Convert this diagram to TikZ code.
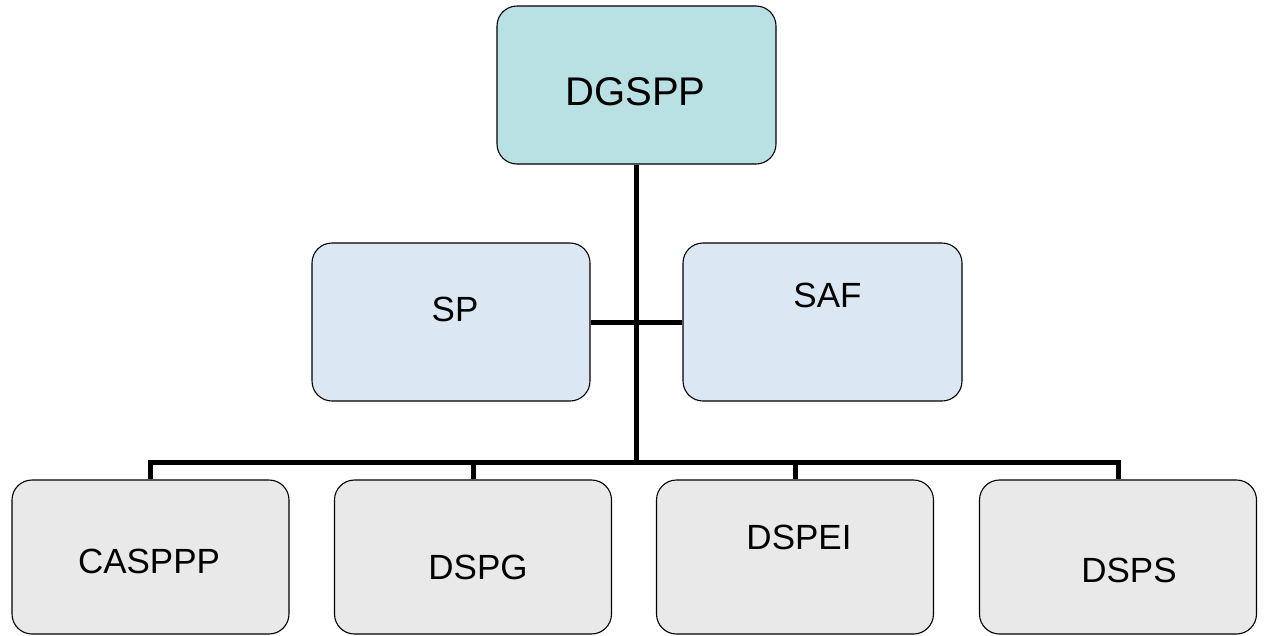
\documentclass[tikz,border=0pt]{standalone}
\usepackage{fontspec}
\setmainfont{Liberation Sans}
\definecolor{topfill}{HTML}{B9E0E3}
\definecolor{midfill}{HTML}{DCE7F4}
\definecolor{lowfill}{HTML}{E9E9E9}
\begin{document}
\begin{tikzpicture}[x=1pt,y=-1pt,
  box/.style={draw=black, line width=1.1pt, rounded corners=20pt, rectangle, inner sep=0pt},
  lbl/.style={inner sep=0pt, font=\fontsize{35}{40}\selectfont},
  conn/.style={draw=black, line width=5pt}]
\useasboundingbox (0,0) rectangle (1267,635);
% boxes
\node[box, fill=topfill, minimum width=279pt, minimum height=158pt] (top) at (636.5,85) {};
\node[box, fill=midfill, minimum width=278pt, minimum height=158pt] (sp) at (451,322) {};
\node[box, fill=midfill, minimum width=279pt, minimum height=158pt] (saf) at (822.5,322) {};
\node[box, fill=lowfill, minimum width=277pt, minimum height=154pt] (c1) at (150.5,557) {};
\node[box, fill=lowfill, minimum width=277pt, minimum height=154pt] (c2) at (473,557) {};
\node[box, fill=lowfill, minimum width=277pt, minimum height=154pt] (c3) at (795,557) {};
\node[box, fill=lowfill, minimum width=277pt, minimum height=154pt] (c4) at (1118,557) {};
% labels
\node[lbl, font=\fontsize{40}{46}\selectfont] (ttop) at (635.5,91.5) {DGSPP};
\node[lbl] (tsp) at (455,309.5) {SP};
\node[lbl] (tsaf) at (827.5,295.5) {SAF};
\node[lbl] (tc1) at (149,561.5) {CASPPP};
\node[lbl] (tc2) at (478,567) {DSPG};
\node[lbl] (tc3) at (799,537) {DSPEI};
\node[lbl] (tc4) at (1129,570.5) {DSPS};
% connectors
\coordinate (bus) at (636.5,462);
\draw[conn] (top.south) -- (bus);
\draw[conn] (sp.east) -- (saf.west);
\draw[conn] (c1.north) |- (bus) -| (c4.north);
\draw[conn] (c2.north) -- (c2.north |- bus);
\draw[conn] (c3.north) -- (c3.north |- bus);
\end{tikzpicture}
\end{document}
